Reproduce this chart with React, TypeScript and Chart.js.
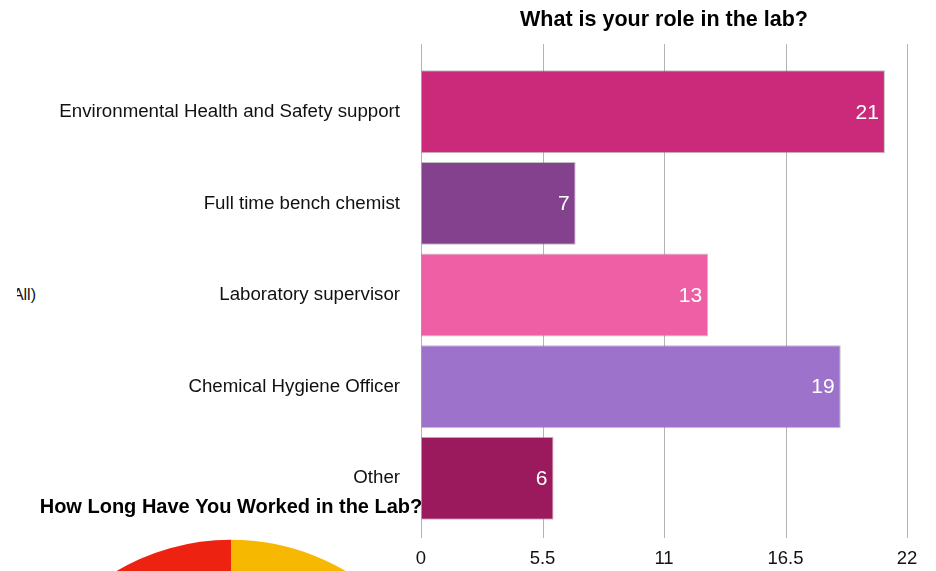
import React, { useEffect, useRef } from "react";
import { Chart, registerables } from "chart.js";

Chart.register(...registerables);

const FONT = "'Liberation Sans', Arial, Helvetica, sans-serif";

// Bar chart: "What is your role in the lab?"
const roleCategories = [
  "Environmental Health and Safety support",
  "Full time bench chemist",
  "Laboratory supervisor",
  "Chemical Hygiene Officer",
  "Other",
];
const roleCounts = [21, 7, 13, 19, 6];
const roleColors = ["#CB2A7B", "#84418E", "#EE5FA6", "#9D72CA", "#9A1A5D"];
const roleAxisMax = 22;
const roleTickStep = 5.5;

// Pie chart: "How Long Have You Worked in the Lab?" (only the top edge is visible)
const tenureCategories = ["Less than 5 years", "5-10 years", "10-20 years", "More than 20 years"];
const tenureCounts = [16, 12, 15, 23];
const tenureColors = ["#F6B800", "#5AAE48", "#2F7FD0", "#EE2210"];

const extendedGrid = {
  id: "extendedGrid",
  beforeDatasetsDraw(chart: any) {
    const { ctx, chartArea } = chart;
    const x = chart.scales.x;
    ctx.save();
    ctx.strokeStyle = "#b4b4b4";
    ctx.lineWidth = 1;
    x.ticks.forEach((_t: any, i: number) => {
      const px = Math.round(x.getPixelForTick(i)) + 0.5;
      ctx.beginPath();
      ctx.moveTo(px, chartArea.top - 22);
      ctx.lineTo(px, chartArea.bottom + 14);
      ctx.stroke();
    });
    ctx.restore();
  },
};

const valueLabels = {
  id: "valueLabels",
  afterDatasetsDraw(chart: any) {
    const { ctx } = chart;
    const meta = chart.getDatasetMeta(0);
    ctx.save();
    ctx.font = `21px ${FONT}`;
    ctx.fillStyle = "#ffffff";
    ctx.textAlign = "right";
    ctx.textBaseline = "middle";
    meta.data.forEach((bar: any, i: number) => {
      ctx.fillText(String(roleCounts[i]), bar.x - 6, bar.y + 1);
    });
    ctx.restore();
  },
};

function RoleChart() {
  const ref = useRef<HTMLCanvasElement>(null);
  useEffect(() => {
    const chart = new Chart(ref.current as HTMLCanvasElement, {
      type: "bar",
      data: {
        labels: roleCategories,
        datasets: [
          {
            data: roleCounts,
            backgroundColor: roleColors,
            borderColor: "rgba(140,140,140,0.55)",
            borderWidth: 1,
            borderSkipped: false,
            barPercentage: 0.905,
            categoryPercentage: 1,
          },
        ],
      },
      options: {
        indexAxis: "y",
        responsive: false,
        animation: false,
        devicePixelRatio: 1,
        layout: { padding: { left: 0, right: 29, top: 0, bottom: 0 } },
        plugins: {
          legend: { display: false },
          tooltip: { enabled: false },
          title: {
            display: true,
            text: "What is your role in the lab?",
            fullSize: false,
            color: "#000",
            font: { family: FONT, size: 21.5, weight: "bold" },
            padding: { top: 7, bottom: 33.2 },
          },
        },
        scales: {
          x: {
            min: 0,
            max: roleAxisMax,
            ticks: {
              stepSize: roleTickStep,
              padding: 5,
              color: "#111",
              font: { family: FONT, size: 18.5 },
            },
            grid: { display: false, drawTicks: true, tickLength: 19 },
            border: { display: false },
            afterFit: (s: any) => {
              s.height = 47;
            },
          },
          y: {
            ticks: {
              padding: 21,
              color: "#111",
              font: { family: FONT, size: 18.7 },
            },
            grid: { display: false, drawTicks: false },
            border: { display: false },
            afterFit: (s: any) => {
              s.width = 421;
            },
          },
        },
      } as any,
      plugins: [extendedGrid, valueLabels],
    });
    return () => chart.destroy();
  }, []);
  return (
    <canvas
      ref={ref}
      width={936}
      height={571}
      style={{ position: "absolute", left: 0, top: 0, zIndex: 2 }}
    />
  );
}

function TenureChart() {
  const ref = useRef<HTMLCanvasElement>(null);
  useEffect(() => {
    const chart = new Chart(ref.current as HTMLCanvasElement, {
      type: "pie",
      data: {
        labels: tenureCategories,
        datasets: [
          {
            data: tenureCounts,
            backgroundColor: tenureColors,
            borderWidth: 0,
          },
        ],
      },
      options: {
        responsive: false,
        animation: false,
        devicePixelRatio: 1,
        layout: { padding: { left: 5, right: 5, top: 0, bottom: 0 } },
        plugins: {
          legend: { display: false },
          tooltip: { enabled: false },
          title: {
            display: true,
            text: "How Long Have You Worked in the Lab?",
            color: "#000",
            font: { family: FONT, size: 20, weight: "bold" },
            padding: { top: 7, bottom: 20.5 },
          },
        },
      } as any,
    });
    return () => chart.destroy();
  }, []);
  return (
    <canvas
      ref={ref}
      width={462}
      height={504}
      style={{ position: "absolute", left: 0, top: 488, zIndex: 1 }}
    />
  );
}

export default function App() {
  return (
    <div
      style={{
        position: "fixed",
        left: 0,
        top: 0,
        width: 936,
        height: 571,
        overflow: "hidden",
        background: "#fff",
      }}
    >
      <div
        style={{
          position: "absolute",
          left: 17,
          top: 284,
          width: 40,
          height: 24,
          overflow: "hidden",
          zIndex: 0,
        }}
      >
        <span
          style={{
            position: "absolute",
            right: 21,
            top: 2,
            fontFamily: FONT,
            fontSize: 16,
            color: "#111",
            whiteSpace: "nowrap",
          }}
        >
          (All)
        </span>
      </div>
      <TenureChart />
      <RoleChart />
    </div>
  );
}
